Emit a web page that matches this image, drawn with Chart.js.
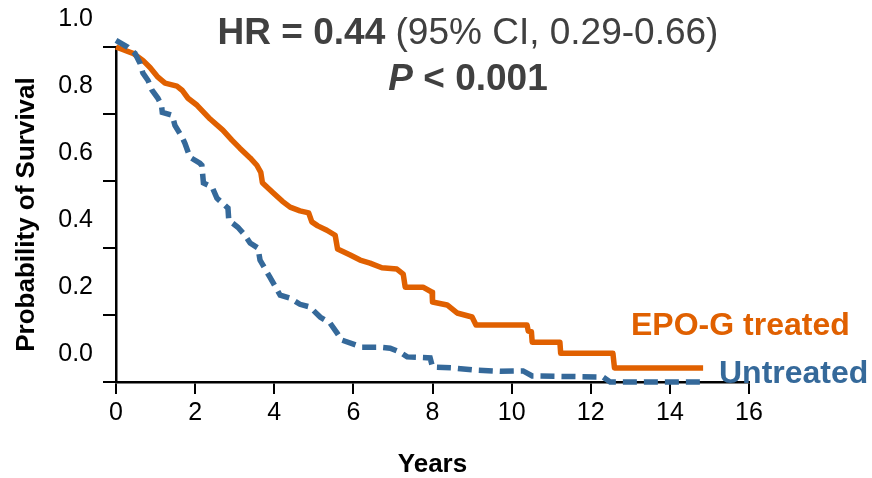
<!DOCTYPE html>
<html><head><meta charset="utf-8">
<script src="https://cdn.jsdelivr.net/npm/chart.js@4.4.0/dist/chart.umd.min.js"></script>
<style>html,body{margin:0;padding:0;background:#fff;}canvas{display:block;}</style>
</head><body>
<canvas id="c" width="872" height="478"></canvas>
<script>
// ---- data ----
const seriesNames = ['EPO-G treated', 'Untreated'];
const treatedYears = [0,0.43,0.68,0.86,1.06,1.24,1.54,1.67,1.82,2.05,2.38,2.70,2.93,3.13,3.39,3.56,3.66,3.70,3.97,4.20,4.40,4.65,4.87,4.95,5.10,5.33,5.54,5.60,5.92,6.17,6.42,6.72,7.10,7.26,7.31,7.76,7.99,8.00,8.37,8.62,9.00,9.10,10.39,10.42,10.50,10.52,11.22,11.24,12.56,12.60,14.84];
const treatedSurvival = [1.0,0.981,0.960,0.939,0.910,0.892,0.883,0.871,0.847,0.826,0.785,0.752,0.722,0.698,0.669,0.647,0.626,0.595,0.565,0.540,0.522,0.511,0.505,0.478,0.466,0.453,0.438,0.397,0.379,0.364,0.355,0.341,0.337,0.322,0.283,0.283,0.268,0.239,0.230,0.206,0.194,0.170,0.170,0.152,0.150,0.119,0.119,0.086,0.086,0.042,0.042];
const untreatedYears = [0,0.30,0.48,0.61,0.68,0.81,0.91,1.06,1.15,1.17,1.42,1.49,1.67,1.74,1.87,2.12,2.17,2.21,2.43,2.55,2.83,2.85,3.08,3.26,3.39,3.59,3.64,3.89,4.15,4.40,4.65,4.90,5.16,5.41,5.59,5.71,6.22,6.67,6.93,7.18,7.36,7.94,8.00,8.52,9.02,9.71,10.29,10.52,12.31,12.49,14.84];
const untreatedSurvival = [1.02,0.999,0.981,0.951,0.922,0.900,0.871,0.847,0.826,0.805,0.796,0.766,0.731,0.713,0.671,0.653,0.647,0.594,0.582,0.549,0.519,0.483,0.462,0.438,0.415,0.400,0.364,0.313,0.259,0.250,0.232,0.224,0.194,0.176,0.146,0.125,0.104,0.104,0.101,0.089,0.075,0.072,0.045,0.042,0.036,0.032,0.033,0.018,0.015,0.0,0.0];
const xTickValues = [0,2,4,6,8,10,12,14,16];
const yTickValues = [0,0.2,0.4,0.6,0.8,1.0];
const xAxisTitle = 'Years';
const yAxisTitle = 'Probability of Survival';
const titleLine1 = [['HR = 0.44', 'bold'], [' (95% CI, 0.29-0.66)', 'normal']];
const titleLine2 = [['P', 'italic bold'], [' < 0.001', 'bold']];

// ---- style ----
const FONT = "'Liberation Sans', Arial, Helvetica, sans-serif";
const ORANGE = '#E06000';
const BLUE = '#35699A';
const TITLE_COLOR = '#404040';
Chart.defaults.font.family = FONT;
Chart.defaults.color = '#000';

const toPoints = (xs, ys) => xs.map((x, i) => ({x: x, y: ys[i]}));

const textPlugin = {
  id: 'textPlugin',
  afterDraw(chart) {
    const ctx = chart.ctx;
    ctx.save();
    ctx.textBaseline = 'alphabetic';
    ctx.textAlign = 'left';
    const drawLine = (parts, cx, y, size) => {
      let total = 0;
      const ws = parts.map(p => { ctx.font = p[1] + ' ' + size + 'px ' + FONT; const w = ctx.measureText(p[0]).width; total += w; return w; });
      let x = cx - total / 2;
      parts.forEach((p, i) => { ctx.font = p[1] + ' ' + size + 'px ' + FONT; ctx.fillText(p[0], x, y); x += ws[i]; });
    };
    ctx.fillStyle = TITLE_COLOR;
    drawLine(titleLine1, 468, 44, 37);
    drawLine(titleLine2, 468, 90, 37);
    ctx.font = 'bold 32px ' + FONT;
    ctx.fillStyle = ORANGE;
    ctx.fillText(seriesNames[0], 631, 335);
    ctx.fillStyle = BLUE;
    ctx.fillText(seriesNames[1], 719, 383);
    ctx.restore();
  }
};

new Chart(document.getElementById('c'), {
  type: 'line',
  data: {
    datasets: [
      { label: seriesNames[1], data: toPoints(untreatedYears, untreatedSurvival), borderColor: BLUE, borderWidth: 5.5, borderDash: [14, 7], borderCapStyle: 'butt', pointRadius: 0, tension: 0, fill: false, clip: false },
      { label: seriesNames[0], data: toPoints(treatedYears, treatedSurvival), borderColor: ORANGE, borderWidth: 5.5, borderJoinStyle: 'round', borderCapStyle: 'butt', pointRadius: 0, tension: 0, fill: false, clip: false }
    ]
  },
  options: {
    responsive: false,
    animation: false,
    layout: { padding: { top: 47, right: 123, left: 0, bottom: 0 } },
    plugins: { legend: { display: false }, tooltip: { enabled: false }, title: { display: false } },
    scales: {
      x: {
        type: 'linear', min: 0, max: 16,
        afterFit: s => { s.height = 96; },
        afterBuildTicks: s => { s.ticks = xTickValues.map(v => ({value: v})); },
        ticks: { font: { size: 25 }, color: '#000', padding: 4, maxRotation: 0, autoSkip: false },
        grid: { drawOnChartArea: false, color: '#000', lineWidth: 2, tickLength: 12 },
        border: { color: '#000', width: 2.5 },
        title: { display: true, text: xAxisTitle, font: { size: 26, weight: 'bold', lineHeight: 1 }, color: '#000', padding: { top: 0, bottom: 0 } }
      },
      y: {
        type: 'linear', min: 0, max: 1,
        afterFit: s => { s.width = 116; },
        afterBuildTicks: s => { s.ticks = yTickValues.map(v => ({value: v})); },
        ticks: { font: { size: 25 }, color: '#000', padding: 10, labelOffset: -28, callback: v => Number(v).toFixed(1) },
        grid: { drawOnChartArea: false, color: '#000', lineWidth: 2, tickLength: 13 },
        border: { color: '#000', width: 2.5 },
        title: { display: true, text: yAxisTitle, font: { size: 26, weight: 'bold', lineHeight: 1 }, color: '#000', padding: { top: 14, bottom: 0 } }
      }
    }
  },
  plugins: [textPlugin]
});
</script>
</body></html>
